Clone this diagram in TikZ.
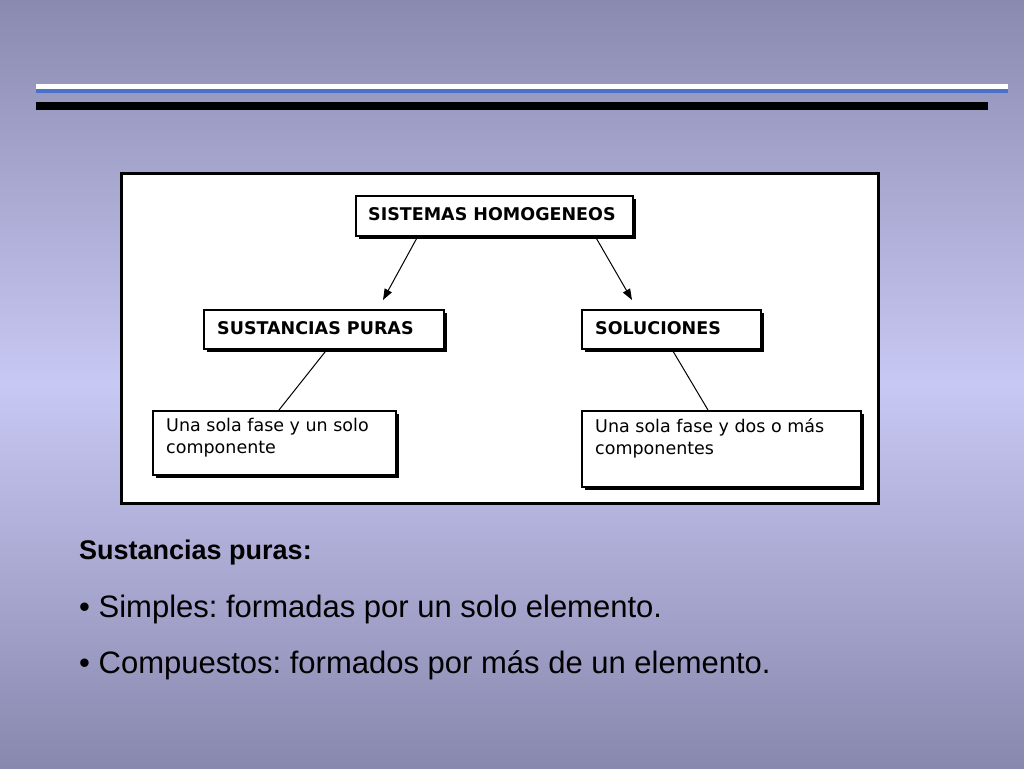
\documentclass[tikz,border=0pt]{standalone}
\usepackage{fontspec}
\setmainfont{Liberation Sans}
\newfontfamily\verd{DejaVu Sans}
\usetikzlibrary{shadows,arrows.meta}
\definecolor{bgtop}{HTML}{8A8AB0}
\definecolor{bgmid}{HTML}{C8C8F4}
\definecolor{bgbot}{HTML}{8888AE}
\definecolor{lineblue}{HTML}{4A70C8}
\frenchspacing
\tikzset{
  cbox/.style={draw=black, line width=1.5pt, fill=white, anchor=north west, inner sep=0pt,
    drop shadow={shadow xshift=3pt, shadow yshift=-3pt, fill=black, opacity=1}},
  hd/.style={anchor=west, font=\verd\bfseries\fontsize{17.5}{20}\selectfont, inner sep=0pt},
  bt/.style={anchor=north west, align=left, font=\verd\fontsize{17.5}{22}\selectfont, inner sep=0pt},
  conn/.style={line width=1pt},
  arr/.style={conn, -{Triangle[length=11pt,width=8pt]}},
  btxt/.style={anchor=west, font=\fontsize{31}{36}\selectfont, inner sep=0pt}
}
\begin{document}
\begin{tikzpicture}[x=1pt,y=-1pt]
\useasboundingbox (0,0) rectangle (1024,768);
\shade[top color=bgtop, bottom color=bgbot, middle color=bgmid] (0,0) rectangle (1024,768);
% top lines
\fill[white] (36,84) rectangle (1008,90);
\fill[lineblue] (36,89) rectangle (1008,93);
\fill[black] (36,102) rectangle (988,110);
% frame
\node[draw=black, line width=3pt, fill=white, anchor=north west, minimum width=757pt, minimum height=330pt, inner sep=0pt] (frame) at (120,172) {};
% boxes
\node[cbox, minimum width=277pt, minimum height=40pt] (sh) at (355,195) {};
\node[hd] (shT) at (368,214) {SISTEMAS HOMOGENEOS};
\node[cbox, minimum width=240pt, minimum height=39pt] (sp) at (203,309) {};
\node[hd] (spT) at (217,328) {SUSTANCIAS PURAS};
\node[cbox, minimum width=179pt, minimum height=39pt] (so) at (581,309) {};
\node[hd] (soT) at (595,328) {SOLUCIONES};
\node[cbox, minimum width=243pt, minimum height=64pt] (u1) at (152,410) {};
\node[bt] (u1T) at (166,418) {Una sola fase y un solo\\componente};
\node[cbox, minimum width=279pt, minimum height=76pt] (u2) at (581,410) {};
\node[bt] (u2T) at (595,418) {Una sola fase y dos o más\\componentes};
% connectors
\coordinate (a1) at (418,236); \coordinate (a2) at (383,300);
\coordinate (b1) at (595,236); \coordinate (b2) at (632,300);
\draw[arr] (a1) -- (a2);
\draw[arr] (b1) -- (b2);
\draw[conn] (sp.south -| 327,0) -- (u1.north -| 279,0);
\draw[conn] (so.south -| 672,0) -- (u2.north -| 708,0);
% bottom text
\node[btxt, font=\bfseries\fontsize{27}{32}\selectfont] (t1) at (79,553) {Sustancias puras:};
\node[btxt] (t2) at (79,609) {\textbullet\ Simples: formadas por un solo elemento.};
\node[btxt] (t3) at (79,665) {\textbullet\ Compuestos: formados por más de un elemento.};
\end{tikzpicture}
\end{document}
